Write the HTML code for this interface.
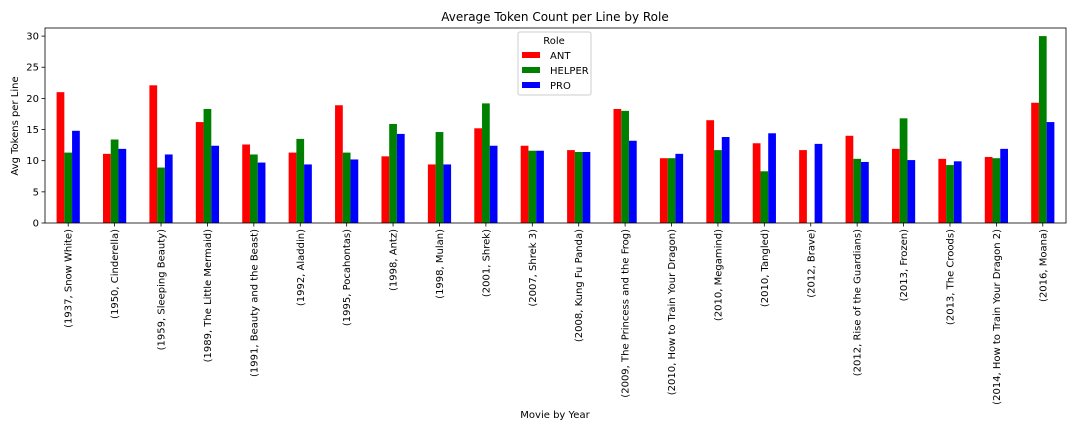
<!DOCTYPE html>
<html><head><meta charset="utf-8"><style>
body{margin:0;background:#fff;}
svg{display:block;font-family:"DejaVu Sans","Liberation Sans",sans-serif;}
</style></head><body>
<svg id="chart" width="1080" height="432">
<text x="555" y="21" font-size="12" text-anchor="middle">Average Token Count per Line by Role</text>
<text transform="translate(18,126) rotate(-90)" font-size="10" text-anchor="middle">Avg Tokens per Line</text>
<text x="555" y="418" font-size="10" text-anchor="middle">Movie by Year</text>
<g id="bars"></g><g id="axes"></g>
<g>
<rect x="518" y="32" width="73" height="63" fill="#fff" stroke="#ccc" rx="2"/>
<text x="554" y="44" font-size="10" text-anchor="middle">Role</text>
<rect x="522" y="52" width="18" height="6" fill="#ff0000"/>
<text x="550" y="59" font-size="10">ANT</text>
<rect x="522" y="67" width="18" height="6" fill="#008000"/>
<text x="550" y="74" font-size="10">HELPER</text>
<rect x="522" y="82" width="18" height="6" fill="#0000ff"/>
<text x="550" y="89" font-size="10">PRO</text>
</g>
</svg>
<script>
const categories=["(1937, Snow White)","(1950, Cinderella)","(1959, Sleeping Beauty)","(1989, The Little Mermaid)","(1991, Beauty and the Beast)","(1992, Aladdin)","(1995, Pocahontas)","(1998, Antz)","(1998, Mulan)","(2001, Shrek)","(2007, Shrek 3)","(2008, Kung Fu Panda)","(2009, The Princess and the Frog)","(2010, How to Train Your Dragon)","(2010, Megamind)","(2010, Tangled)","(2012, Brave)","(2012, Rise of the Guardians)","(2013, Frozen)","(2013, The Croods)","(2014, How to Train Your Dragon 2)","(2016, Moana)"];
const antValues=[21.0,11.1,22.1,16.2,12.6,11.3,18.9,10.7,9.4,15.2,12.4,11.7,18.3,10.4,16.5,12.8,11.7,14.0,11.9,10.3,10.6,19.3];
const helperValues=[11.3,13.4,8.9,18.3,11.0,13.5,11.3,15.9,14.6,19.2,11.6,11.4,18.0,10.4,11.7,8.3,0,10.3,16.8,9.3,10.4,30.0];
const proValues=[14.8,11.9,11.0,12.4,9.7,9.4,10.2,14.3,9.4,12.4,11.6,11.4,13.2,11.1,13.8,14.4,12.7,9.8,10.1,9.9,11.9,16.2];
const yTicks=[0,5,10,15,20,25,30];
const seriesNames=["ant","helper","pro"];
const ns="http://www.w3.org/2000/svg";
const L=45,R=1066,T=28,B=223,yMax=31.3;
const n=categories.length,gw=(R-L)/n,bw=gw*0.5/3;
function xc(i){return L+gw*(i+0.5);}
function ys(v){return B-(v/yMax)*(B-T);}
function mk(tag,attrs,parent){const e=document.createElementNS(ns,tag);for(const k in attrs)e.setAttribute(k,attrs[k]);parent.appendChild(e);return e;}
const bars=document.getElementById('bars'),axes=document.getElementById('axes');
const series=[antValues,helperValues,proValues],colors=["#ff0000","#008000","#0000ff"];
series.forEach((vals,s)=>{vals.forEach((v,i)=>{
 const x=xc(i)-1.5*bw+s*bw;
 const r=mk('rect',{x:x,y:ys(v),width:bw,height:B-ys(v),fill:colors[s]},bars);
 
 
});});
const frame=mk('rect',{x:L,y:T,width:R-L,height:B-T,fill:'none',stroke:'#000','stroke-width':0.8},axes);


yTicks.forEach(t=>{
 const y=ys(t);
 const tk=mk('line',{x1:L-3.5,x2:L,y1:y,y2:y,stroke:'#000','stroke-width':0.8},axes);
 
 
 const tx=mk('text',{x:L-6,y:y+3.5,'font-size':10,'text-anchor':'end'},axes);
 tx.textContent=t;
 
 
});
categories.forEach((c,i)=>{
 const x=xc(i);
 const tk=mk('line',{x1:x,x2:x,y1:B,y2:B+3.5,stroke:'#000','stroke-width':0.8},axes);
 
 
 const tx=mk('text',{transform:'translate('+(x+3.5)+','+(B+6)+') rotate(-90)','font-size':10,'text-anchor':'end'},axes);
 tx.textContent=c;
 
 
});
</script>
</body></html>
